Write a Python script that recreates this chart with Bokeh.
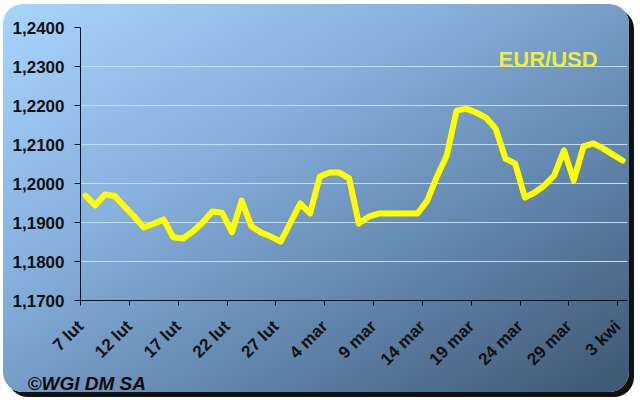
import math
import datetime as dt
from bokeh.plotting import figure
from bokeh.models import FixedTicker, Range1d, Label, Title
from bokeh.embed import file_html
from bokeh.resources import INLINE

# ---- data ----
start_date = "2006-02-07"
n_days = 56
eur_usd = [
    1.1969, 1.1944, 1.1972, 1.1968, 1.1941, 1.1915, 1.1887, 1.1897, 1.1908, 1.1862,
    1.1859, 1.1877, 1.1900, 1.1928, 1.1925, 1.1875, 1.1956, 1.1890, 1.1874, 1.1864,
    1.1851, 1.1900, 1.1949, 1.1923, 1.2018, 1.2028, 1.2028, 1.2013, 1.1897, 1.1915,
    1.1923, 1.1923, 1.1923, 1.1923, 1.1923, 1.1956, 1.2018, 1.2072, 1.2187, 1.2192,
    1.2182, 1.2169, 1.2141, 1.2064, 1.2051, 1.1964, 1.1977, 1.1995, 1.2021, 1.2085,
    1.2008, 1.2095, 1.2103, 1.2090, 1.2074, 1.2059,
]
tick_dates = ["2006-02-07", "2006-02-12", "2006-02-17", "2006-02-22", "2006-02-27",
              "2006-03-04", "2006-03-09", "2006-03-14", "2006-03-19", "2006-03-24",
              "2006-03-29", "2006-04-03"]
tick_labels = ["7 lut", "12 lut", "17 lut", "22 lut", "27 lut", "4 mar", "9 mar",
               "14 mar", "19 mar", "24 mar", "29 mar", "3 kwi"]
y_ticks = [1.17, 1.18, 1.19, 1.20, 1.21, 1.22, 1.23, 1.24]
y_tick_labels = ["1,1700", "1,1800", "1,1900", "1,2000", "1,2100", "1,2200", "1,2300", "1,2400"]
series_name = "EUR/USD"
credit = "©WGI DM SA"

# ---- positions: each day occupies one slot, point in its middle ----
d0 = dt.date.fromisoformat(start_date)
dates = [d0 + dt.timedelta(days=i) for i in range(len(eur_usd))]
xs = [(d - d0).days + 0.5 for d in dates]
tick_pos = [(dt.date.fromisoformat(t) - d0).days for t in tick_dates]

FONT = "Liberation Sans"

p = figure(width=626, height=388, output_backend="svg", toolbar_location=None,
           x_range=Range1d(0, n_days), y_range=Range1d(1.17, 1.24),
           min_border_left=77, min_border_right=2, min_border_top=23, min_border_bottom=92)
p.styles = {
    "margin-left": "3px",
    "margin-top": "4px",
    "background": "linear-gradient(to bottom right, #a8d4fc 0%, #87b1de 35%, #6084aa 68%, #3e5671 100%)",
    "border-radius": "20px",
    "box-shadow": "5px 5px 0px #111111",
}
p.background_fill_alpha = 0
p.border_fill_alpha = 0
p.outline_line_color = None

p.xgrid.grid_line_color = None
p.ygrid.grid_line_color = "#c2ddf7"
p.ygrid.grid_line_width = 1

# y axis
p.yaxis.ticker = FixedTicker(ticks=y_ticks)
p.yaxis.major_label_overrides = {t: l for t, l in zip(y_ticks, y_tick_labels)}
p.yaxis.minor_tick_line_color = None
p.yaxis.major_tick_in = 0
p.yaxis.major_tick_out = 6
p.yaxis.major_label_standoff = 10
p.yaxis.axis_line_color = "#111111"
p.yaxis.major_tick_line_color = "#111111"
p.yaxis.major_label_text_font = FONT
p.yaxis.major_label_text_font_style = "bold"
p.yaxis.major_label_text_font_size = "17px"
p.yaxis.major_label_text_color = "#111111"

# x axis
p.xaxis.ticker = FixedTicker(ticks=tick_pos)
p.xaxis.major_label_overrides = {t: l for t, l in zip(tick_pos, tick_labels)}
p.xaxis.minor_tick_line_color = None
p.xaxis.major_tick_in = 0
p.xaxis.major_tick_out = 5
p.xaxis.major_label_standoff = 18
p.xaxis.major_label_orientation = math.pi / 4
p.xaxis.axis_line_color = "#111111"
p.xaxis.major_tick_line_color = "#111111"
p.xaxis.major_label_text_font = FONT
p.xaxis.major_label_text_font_style = "bold"
p.xaxis.major_label_text_font_size = "17px"
p.xaxis.major_label_text_color = "#111111"

p.line(xs, eur_usd, line_color="#ffff00", line_width=6, line_join="round", line_cap="round")

p.add_layout(Label(x=42.8, y=1.2317, text=series_name, text_font=FONT, text_font_style="bold",
                   text_font_size="22px", text_color="#eeec3c", text_baseline="middle"))
p.add_layout(Title(text=credit, align="left", offset=-53, standoff=-16, text_font=FONT,
                   text_font_style="bold italic", text_font_size="19px", text_color="#0a0a0a"),
             "below")

open("out.html", "w").write(file_html(p, INLINE))
